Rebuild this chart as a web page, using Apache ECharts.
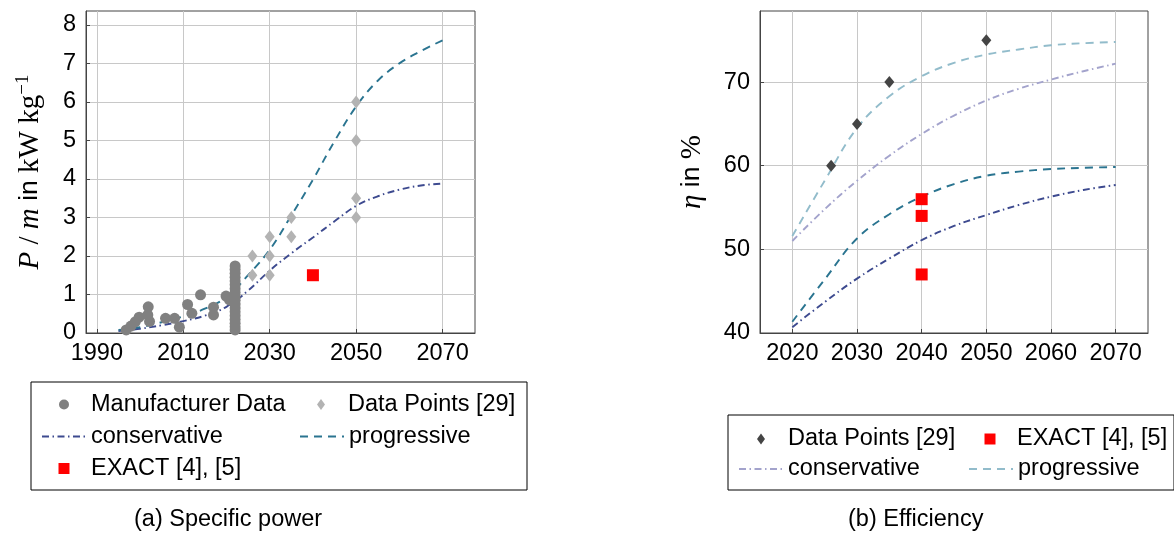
<!DOCTYPE html>
<html>
<head>
<meta charset="utf-8">
<script src="https://cdn.jsdelivr.net/npm/echarts@6/dist/echarts.min.js"></script>
<style>
html, body { margin: 0; padding: 0; background: #fff; }
#chart_a { position: absolute; left: 0; top: 0; width: 587px; height: 534px; }
#chart_b { position: absolute; left: 587px; top: 0; width: 587px; height: 534px; }
</style>
</head>
<body>
<div id="chart_a"></div>
<div id="chart_b"></div>
<script>
// ---- (a) specific power, kW/kg ----
var manufacturer_a = [
    [1996.8, 0.08], [1997.9, 0.18], [1998.9, 0.29], [1999.8, 0.41], [2001.9, 0.68],
    [2001.8, 0.47], [2002.2, 0.3], [2005.9, 0.38], [2008, 0.38], [2009.1, 0.15],
    [2011, 0.74], [2012, 0.51], [2014, 0.99], [2017, 0.67], [2017, 0.47],
    [2019.9, 0.96], [2020.7, 0.86],
    [2022, 0.08], [2022, 0.16], [2022, 0.25], [2022, 0.35], [2022, 0.45], [2022, 0.55],
    [2022, 0.65], [2022, 0.75], [2022, 0.85], [2022, 0.95], [2022, 1.05], [2022, 1.15],
    [2022, 1.25], [2022, 1.35], [2022, 1.45], [2022, 1.55], [2022, 1.65], [2022, 1.74]
];
var datapoints_a = [[2026, 2], [2026, 1.5], [2030, 2.5], [2030, 2], [2030, 1.5], [2035, 3], [2035, 2.5],
    [2050, 6], [2050, 5], [2050, 3.5], [2050, 3]];
var exact_a = [[2040, 1.5]];
var years_a = [1995, 2000, 2005, 2010, 2015, 2020, 2025, 2030, 2035, 2040, 2045, 2050, 2055, 2060, 2065, 2070];
var progressive_a = [0.08, 0.15, 0.28, 0.43, 0.63, 0.93, 1.5, 2.16, 3.05, 3.98, 4.98, 5.88, 6.55, 7.0, 7.32, 7.6];
var conservative_a = [0.05, 0.11, 0.2, 0.31, 0.45, 0.68, 1.1, 1.62, 2.07, 2.48, 2.9, 3.3, 3.55, 3.72, 3.83, 3.88];
var xticks_a = [1990, 2010, 2030, 2050, 2070];
var yticks_a = [0, 1, 2, 3, 4, 5, 6, 7, 8];

// ---- (b) efficiency, % ----
var datapoints_b = [[2026, 60], [2030, 65], [2035, 70], [2050, 75]];
var exact_b = [[2040, 56], [2040, 54], [2040, 47]];
var years_b = [2020, 2025, 2030, 2035, 2040, 2045, 2050, 2055, 2060, 2065, 2070];
var prog_light_b = [51.6, 58.2, 64.5, 68.3, 70.7, 72.3, 73.3, 73.9, 74.4, 74.65, 74.8];
var cons_light_b = [51.0, 54.8, 58.2, 61.2, 63.8, 66.0, 67.8, 69.2, 70.3, 71.3, 72.2];
var prog_dark_b = [41.35, 46.4, 51.3, 54.2, 56.3, 57.8, 58.8, 59.3, 59.6, 59.75, 59.85];
var cons_dark_b = [40.7, 43.7, 46.5, 48.9, 51.1, 52.8, 54.1, 55.3, 56.3, 57.1, 57.7];
var xticks_b = [2020, 2030, 2040, 2050, 2060, 2070];
var yticks_b = [40, 50, 60, 70];

var SANS = "'Liberation Sans', Arial, Helvetica, sans-serif";
var SERIF = "'Liberation Serif', 'DejaVu Serif', serif";
var FS = 23.5;
var DASH = [8, 6];
var DASHDOT = [7, 3.5, 1.5, 3.5];
// legend icons span the whole 44x11 icon box (empty corner points) so every item lines up
var BOX = 'M0,0L0,0M44,11L44,11';
var ICON_CIRCLE = 'path://' + BOX + 'M17,5.5A5,5,0,1,1,27,5.5A5,5,0,1,1,17,5.5Z';
var ICON_SQUARE = 'path://' + BOX + 'M16.5,0L27.5,0L27.5,11L16.5,11Z';
var ICON_DIAMOND = 'path://' + BOX + 'M22,0L26,5.5L22,11L18,5.5Z';
var NO_DOT = { color: 'rgba(0,0,0,0)', borderWidth: 0 };

function pairs(xs, ys) {
    return xs.map(function (x, i) { return [x, ys[i]]; });
}

function plain(v) { return String(v); }

function xAxisOf(min, max, ticks) {
    return {
        type: 'value', min: min, max: max,
        axisLine: { show: true, onZero: false, lineStyle: { color: '#444', width: 1 } },
        axisTick: { show: true, inside: true, length: 4, customValues: ticks, lineStyle: { color: '#444' } },
        axisLabel: { customValues: ticks, formatter: plain, margin: 9, color: '#000', fontSize: FS, fontFamily: SANS },
        splitLine: { show: true, lineStyle: { color: '#c8c8c8', width: 1 } }
    };
}

function yAxisOf(min, max, ticks, name, gap) {
    return {
        type: 'value', min: min, max: max,
        name: name, nameLocation: 'middle', nameRotate: 90, nameGap: gap,
        nameTextStyle: { rich: mathRich },
        axisLine: { show: true, lineStyle: { color: '#444', width: 1 } },
        axisTick: { show: true, inside: true, length: 4, customValues: ticks, lineStyle: { color: '#444' } },
        axisLabel: { customValues: ticks, formatter: plain, margin: 10, color: '#000', fontSize: FS, fontFamily: SANS },
        splitLine: { show: true, lineStyle: { color: '#c8c8c8', width: 1 } }
    };
}

function curve(name, xs, ys, color, type) {
    return {
        name: name, type: 'line', data: pairs(xs, ys), smooth: 0.4, symbol: 'none',
        lineStyle: { color: color, width: 1.9, type: type },
        itemStyle: { color: color }, z: 2
    };
}

// legend columns get a fixed text width via rich tokens: {a|...} first column, {b|...} second
function legendOf(left, top, width, padding, gap, wa, wb, secondCol, data) {
    var tok = { fontSize: FS, color: '#000', fontFamily: SANS, lineHeight: 24 };
    return {
        left: left, top: top, width: width, orient: 'horizontal',
        padding: padding, itemGap: gap, itemWidth: 44, itemHeight: 11,
        symbolKeepAspect: true,
        borderColor: '#000', borderWidth: 1, borderRadius: 0,
        formatter: function (name) {
            return '{' + (secondCol.indexOf(name) >= 0 ? 'b' : 'a') + '|' + name + '}';
        },
        textStyle: {
            fontSize: FS, color: '#000', fontFamily: SANS,
            rich: {
                a: Object.assign({ width: wa }, tok),
                b: Object.assign({ width: wb }, tok)
            }
        },
        data: data
    };
}

var mathRich = {
    it: { fontFamily: SERIF, fontStyle: 'italic', fontSize: 29, color: '#000', lineHeight: 32 },
    rm: { fontFamily: SERIF, fontSize: 29, color: '#000', lineHeight: 32 },
    sf: { fontFamily: SANS, fontSize: 26.5, color: '#000', lineHeight: 32 },
    sup: { fontFamily: SERIF, fontSize: 19, color: '#000', lineHeight: 19, verticalAlign: 'top' }
};

var chartA = echarts.init(document.getElementById('chart_a'));
var optionA = {
    animation: false,
    title: { text: '(a) Specific power', left: 129, top: 503,
        textStyle: { fontSize: FS, fontWeight: 'normal', color: '#000', fontFamily: SANS } },
    grid: { left: 86, top: 11, width: 389, height: 322, show: true, borderColor: '#444', borderWidth: 1 },
    xAxis: xAxisOf(1987.5, 2077.5, xticks_a),
    yAxis: yAxisOf(0, 8.36, yticks_a, '{it|P}{rm| / }{it|m}{sf| in }{rm|kW kg}{sup|−1}', 40),
    legend: legendOf(31, 382, 480, [10.5, 10, 9.5, 10], 8, 200, 168,
        ['Data Points [29]', 'progressive'], [
        { name: 'Manufacturer Data', icon: ICON_CIRCLE },
        { name: 'Data Points [29]', icon: ICON_DIAMOND },
        { name: 'conservative', itemStyle: NO_DOT },
        { name: 'progressive', itemStyle: NO_DOT },
        { name: 'EXACT [4], [5]', icon: ICON_SQUARE }
    ]),
    series: [
        curve('conservative', years_a, conservative_a, '#3d4a8f', DASHDOT),
        curve('progressive', years_a, progressive_a, '#2a7490', DASH),
        { name: 'Data Points [29]', type: 'scatter', data: datapoints_a, symbol: 'diamond', symbolSize: [10, 13],
          itemStyle: { color: '#b3b3b3', opacity: 1 }, z: 3 },
        { name: 'Manufacturer Data', type: 'scatter', data: manufacturer_a, symbol: 'circle', symbolSize: 11,
          itemStyle: { color: '#808080', opacity: 1 }, z: 4 },
        { name: 'EXACT [4], [5]', type: 'scatter', data: exact_a, symbol: 'rect', symbolSize: 12,
          itemStyle: { color: '#ff0000', opacity: 1 }, z: 5 }
    ]
};
chartA.setOption(optionA);

var chartB = echarts.init(document.getElementById('chart_b'));
var optionB = {
    animation: false,
    title: { text: '(b) Efficiency', left: 256, top: 503,
        textStyle: { fontSize: FS, fontWeight: 'normal', color: '#000', fontFamily: SANS } },
    grid: { left: 173, top: 11, width: 388, height: 322, show: true, borderColor: '#444', borderWidth: 1 },
    xAxis: xAxisOf(2015, 2075, xticks_b),
    yAxis: yAxisOf(40, 78.5, yticks_b, '{it|η}{sf| in }{rm|%}', 52),
    legend: legendOf(141, 415, 440, [12, 6, 9, 10], 6, 174, 150,
        ['EXACT [4], [5]', 'progressive'], [
        { name: 'Data Points [29]', icon: ICON_DIAMOND },
        { name: 'EXACT [4], [5]', icon: ICON_SQUARE },
        { name: 'conservative', itemStyle: NO_DOT },
        { name: 'progressive', itemStyle: NO_DOT }
    ]),
    series: [
        curve('conservative', years_b, cons_light_b, '#a3a3cc', DASHDOT),
        curve('progressive', years_b, prog_light_b, '#92bccb', DASH),
        curve('conservative (low)', years_b, cons_dark_b, '#3d4a8f', DASHDOT),
        curve('progressive (low)', years_b, prog_dark_b, '#2a7490', DASH),
        { name: 'Data Points [29]', type: 'scatter', data: datapoints_b, symbol: 'diamond', symbolSize: [10, 12],
          itemStyle: { color: '#444444', opacity: 1 }, z: 3 },
        { name: 'EXACT [4], [5]', type: 'scatter', data: exact_b, symbol: 'rect', symbolSize: 12,
          itemStyle: { color: '#ff0000', opacity: 1 }, z: 5 }
    ]
};
chartB.setOption(optionB);
</script>
</body>
</html>
